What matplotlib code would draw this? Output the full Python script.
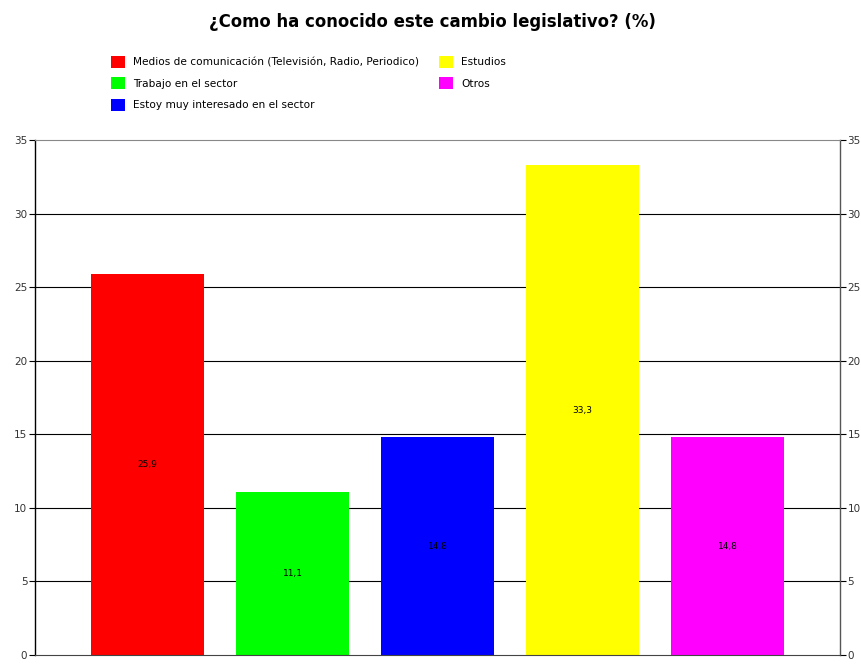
import numpy as np
import matplotlib.pyplot as plt
from matplotlib.patches import Patch

# Respuestas (%)
categorias = ["Medios de comunicación (Televisión, Radio, Periodico)",
              "Trabajo en el sector",
              "Estoy muy interesado en el sector",
              "Estudios",
              "Otros"]
valores = [25.9, 11.1, 14.8, 33.3, 14.8]
colores = ["#ff0000", "#00ff00", "#0000ff", "#ffff00", "#ff00ff"]
ticks_y = [0, 5, 10, 15, 20, 25, 30, 35]

fig = plt.figure(figsize=(8.61, 6.64), dpi=100)
ax = fig.add_axes([35/861, 9/664, 805/861, 515/664])

x = np.arange(len(valores))
ax.bar(x, valores, width=0.78, color=colores, zorder=2)

for xi, v in zip(x, valores):
    ax.text(xi, v / 2, f"{v:.1f}".replace(".", ","), ha="center", va="center",
            fontsize=6.5, color="black", zorder=3)

ax.set_xlim(-0.776, 4.776)
ax.set_ylim(0, 35)
ax.set_yticks(ticks_y)
ax.set_xticks([])
for t in ticks_y[1:-1]:
    ax.axhline(t, color="black", lw=0.8, zorder=1)

ax.spines["top"].set_color("#888888")
ax.spines["bottom"].set_color("#444444")
ax.spines["left"].set_linewidth(1.0)
ax.spines["right"].set_linewidth(1.0)
ax.spines["right"].set_color("#555555")
ax.tick_params(axis="y", which="both", left=True, right=True, labelleft=True,
               labelright=True, length=4, width=0.8, labelsize=7.5,
               labelcolor="#333333", pad=1.5)

fig.text(0.5 + 2/861, 1 - 22/664, "¿Como ha conocido este cambio legislativo? (%)",
         ha="center", va="center", fontsize=11.9, fontweight="bold")

handles = [Patch(facecolor=c, edgecolor="none") for c in colores]
fig.legend(handles, categorias, ncol=2, loc="upper left",
           bbox_to_anchor=(111/861, 1 - 56/664), frameon=False, fontsize=7.6,
           handlelength=1.35, handleheight=1.35, handletextpad=0.75,
           labelspacing=0.9, columnspacing=1.9, borderaxespad=0,
           borderpad=0)

fig.savefig("out.png", dpi=100)
